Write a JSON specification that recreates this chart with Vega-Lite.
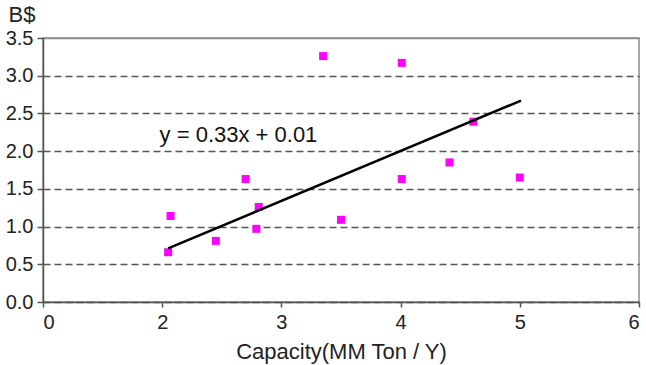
{
  "$schema": "https://vega.github.io/schema/vega-lite/v6.json",
  "width": 596,
  "height": 264,
  "autosize": {"type": "none"},
  "padding": {"left": 43, "top": 38, "right": 7, "bottom": 63},
  "background": "white",
  "config": {
    "font": "Liberation Sans",
    "view": {"stroke": "#8a8a8a", "strokeWidth": 1.5}
  },
  "datasets": {
    "points": [
      {"capacity": 2.05, "cost": 0.66},
      {"capacity": 2.07, "cost": 1.14},
      {"capacity": 2.45, "cost": 0.81},
      {"capacity": 2.70, "cost": 1.63},
      {"capacity": 2.81, "cost": 1.26},
      {"capacity": 2.79, "cost": 0.97},
      {"capacity": 3.35, "cost": 3.26},
      {"capacity": 3.50, "cost": 1.09},
      {"capacity": 4.01, "cost": 3.17},
      {"capacity": 4.01, "cost": 1.63},
      {"capacity": 4.41, "cost": 1.85},
      {"capacity": 4.61, "cost": 2.39},
      {"capacity": 5.00, "cost": 1.65}
    ],
    "trend": [
      {"capacity": 2.05, "cost": 0.71},
      {"capacity": 5.01, "cost": 2.67}
    ],
    "label": [
      {"capacity": 1.956, "cost": 2.125, "text": "y = 0.33x + 0.01"}
    ]
  },
  "layer": [
    {
      "data": {"name": "points"},
      "mark": {"type": "square", "size": 64, "color": "#ff00ff", "opacity": 1, "filled": true},
      "encoding": {
        "x": {
          "field": "capacity",
          "type": "quantitative",
          "scale": {"domain": [0, 2, 6], "range": [0, 119.2, 596], "nice": false, "zero": false},
          "axis": {
            "values": [0, 2, 3, 4, 5, 6],
            "tickCount": 20,
            "format": "d",
            "labelOverlap": false,
            "grid": false,
            "domainColor": "#555555",
            "domainWidth": 1.5,
            "tickColor": "#555555",
            "tickWidth": 1.5,
            "tickSize": 5,
            "labelPadding": 5,
            "labelFontSize": 20,
            "labelColor": "#222222",
            "labelFont": "Liberation Sans",
            "title": "Capacity(MM Ton / Y)",
            "titleFontSize": 22,
            "titleFontWeight": "normal",
            "titleColor": "#222222",
            "titleFont": "Liberation Sans",
            "titleBaseline": "alphabetic",
            "titleY": 56
          }
        },
        "y": {
          "field": "cost",
          "type": "quantitative",
          "scale": {"domain": [0, 3.5], "nice": false, "zero": true},
          "axis": {
            "values": [0, 0.5, 1, 1.5, 2, 2.5, 3, 3.5],
            "tickCount": 20,
            "format": ".1f",
            "labelOverlap": false,
            "labelBound": false,
            "grid": true,
            "gridColor": {"condition": {"test": "datum.value >= 3.5", "value": "#8a8a8a"}, "value": "#555555"},
            "gridDash": {"condition": {"test": "datum.value >= 3.5", "value": []}, "value": [7, 4]},
            "gridWidth": 1.5,
            "domainColor": "#555555",
            "domainWidth": 1.5,
            "tickColor": "#555555",
            "tickWidth": 1.5,
            "tickSize": 6,
            "labelPadding": 4,
            "labelFontSize": 20,
            "labelColor": "#222222",
            "labelFont": "Liberation Sans",
            "title": "B$",
            "titleAngle": 0,
            "titleFontSize": 22,
            "titleFontWeight": "normal",
            "titleColor": "#222222",
            "titleFont": "Liberation Sans",
            "titleAlign": "left",
            "titleBaseline": "alphabetic",
            "titleX": -35,
            "titleY": -17
          }
        }
      }
    },
    {
      "data": {"name": "trend"},
      "mark": {"type": "line", "color": "#000000", "strokeWidth": 2.5},
      "encoding": {
        "x": {"field": "capacity", "type": "quantitative"},
        "y": {"field": "cost", "type": "quantitative"}
      }
    },
    {
      "data": {"name": "label"},
      "mark": {"type": "text", "align": "left", "baseline": "alphabetic", "fontSize": 22, "font": "Liberation Sans", "color": "#111111"},
      "encoding": {
        "x": {"field": "capacity", "type": "quantitative"},
        "y": {"field": "cost", "type": "quantitative"},
        "text": {"field": "text"}
      }
    }
  ]
}
